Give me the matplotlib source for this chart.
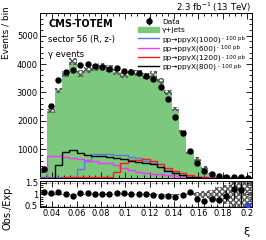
import numpy as np
import matplotlib
matplotlib.use("Agg")
import matplotlib.pyplot as plt
from matplotlib.ticker import MultipleLocator, FixedLocator
import matplotlib.patches as mpatches
from matplotlib.lines import Line2D

# ---- data ----
bin_edges = [0.03 + 0.006 * i for i in range(30)]
data = [304, 2530, 3430, 3730, 3785, 3960, 4015, 3945, 3910, 3840, 3870, 3750, 3715,
        3695, 3570, 3485, 3200, 2760, 2125, 1560, 940, 515, 244, 138, 46, 15, 8, 4, 1]
mc = [271, 2343, 3063, 3657, 4080, 3667, 3788, 3868, 3910, 3840, 3721, 3606, 3715,
      3695, 3570, 3630, 3404, 3000, 2415, 1625, 870, 652, 344, 175, 61, 16, 6.4, 3.4, 4]
mc_rel_unc = [0.03] * 20 + [0.05, 0.1, 0.15, 0.2, 0.3, 0.4, 0.6, 0.6, 0.6]
sig_1000 = [15, 15, 15, 15, 20, 300, 590, 830, 830, 820, 800, 780, 740, 700, 600, 505,
            385, 270, 175, 60, 30, 15, 5, 0, 0, 0, 0, 0, 0]
sig_600 = [0, 750, 750, 740, 700, 640, 620, 600, 520, 500, 450, 350, 270, 210, 170, 120,
           110, 80, 60, 40, 30, 20, 10, 5, 0, 0, 0, 0, 0]
sig_1200 = [0, 0, 0, 20, 20, 20, 20, 20, 20, 20, 210, 525, 620, 630, 650, 580, 470, 330,
            233, 150, 90, 30, 10, 0, 0, 0, 0, 0, 0]
sig_800 = [0, 0, 445, 905, 975, 870, 800, 760, 745, 720, 690, 650, 600, 560, 530, 470,
           365, 245, 150, 90, 30, 10, 0, 0, 0, 0, 0, 0, 0]
masses = ['1000', '600', '1200', '800']
x_ticks = [0.04, 0.06, 0.08, 0.1, 0.12, 0.14, 0.16, 0.18, 0.2]
x_tick_labels = ['0.04', '0.06', '0.08', '0.1', '0.12', '0.14', '0.16', '0.18', '0.2']

edges = np.array(bin_edges)
centers = 0.5 * (edges[:-1] + edges[1:])
data = np.array(data, float)
mc = np.array(mc, float)
unc = mc * np.array(mc_rel_unc)

W, H = 266, 240
plt.rcParams['font.family'] = ['DejaVu Sans']
fig = plt.figure(figsize=(W / 100, H / 100), dpi=100)
fs = 6

ax = fig.add_axes([40 / W, 1 - 177.6 / H, 212 / W, (177.6 - 13) / H])
rx = fig.add_axes([40 / W, 1 - 207 / H, 212 / W, (207 - 181) / H], sharex=ax)

green = '#7cc87c'
ax.stairs(mc, edges, fill=True, color=green, lw=0, zorder=1)
ax.stairs(mc + unc, edges, baseline=mc - unc, fill=True, facecolor='none',
          edgecolor='#555555', hatch='xxxxxx', lw=0, zorder=2)

sig_cols = ['#5a78e6', '#ff33ff', '#ff1a1a', 'black']
for col, vals in zip(sig_cols, [sig_1000, sig_600, sig_1200, sig_800]):
    ax.stairs(vals, edges, color=col, lw=1.0, zorder=3)

err = np.sqrt(data)
hd = ax.errorbar(centers, data, yerr=err, fmt='o', color='black', ms=3.6,
                 elinewidth=0.8, capsize=0, zorder=5)

ax.set_xlim(0.03, 0.204)
ax.set_ylim(0, 5800)
ax.set_yticks([1000, 2000, 3000, 4000, 5000])
ax.yaxis.set_minor_locator(MultipleLocator(200))
ax.xaxis.set_major_locator(MultipleLocator(0.02))
ax.xaxis.set_minor_locator(MultipleLocator(0.005))
for a in (ax, rx):
    a.tick_params(which='both', direction='in', top=True, right=True, labelsize=fs,
                  width=0.6, pad=1.5)
    a.tick_params(which='major', length=4)
    a.tick_params(which='minor', length=2)
    for s in a.spines.values():
        s.set_linewidth(0.7)
ax.tick_params(labelbottom=False)
ax.set_ylabel('Events / bin', fontsize=6.4, labelpad=2)
ax.yaxis.set_label_coords(-0.14, 0.88)

# texts
ax.text(0.04, 0.933, 'CMS-TOTEM', transform=ax.transAxes, fontsize=7,
        fontweight='bold', va='center', ha='left')
ax.text(0.04, 0.842, 'sector 56 (R, z-)', transform=ax.transAxes, fontsize=6,
        va='center', ha='left')
ax.text(0.04, 0.745, 'γ events', transform=ax.transAxes, fontsize=6,
        va='center', ha='left')
fig.text(251 / W, 1 - 7 / H, '2.3 fb$^{-1}$ (13 TeV)', fontsize=6.2, ha='right', va='center')

# legend
leg_handles = [hd, mpatches.Patch(color=green)] + [Line2D([], [], color=c, lw=1) for c in sig_cols]
leg_labels = ['Data', 'γ+jets'] + [f'pp→ppγX({m})' for m in masses]
leg = ax.legend(leg_handles, leg_labels, loc='upper left', bbox_to_anchor=(0.45, 0.985),
                fontsize=5.3, frameon=False, handlelength=2.8, handletextpad=0.45,
                labelspacing=0.35, borderaxespad=0)
fig.canvas.draw()
for t in leg.get_texts()[2:]:
    bb = t.get_window_extent()
    xf, yf = fig.transFigure.inverted().transform((bb.x1, bb.y0))
    fig.text(xf + 0.005, yf + 0.006, '- 100 pb', fontsize=4, ha='left', va='bottom')

# ratio panel
ratio = np.where(mc > 0, data / mc, 0)
rerr = np.sqrt(data) / mc
runc = np.array(mc_rel_unc)
rx.stairs(1 + runc, edges, baseline=1 - runc, fill=True, facecolor='none',
          edgecolor='#555555', hatch='xxxxxx', lw=0, zorder=2)
for yv in (0.5, 1.0, 1.5):
    rx.axhline(yv, color='#888888', ls=(0, (1, 1.5)), lw=0.7, zorder=1)
ylo, yhi = 0.45, 1.58
inr = ratio >= ylo
rx.errorbar(centers[inr], ratio[inr], yerr=rerr[inr], fmt='o', color='black', ms=3.6,
            elinewidth=0.8, capsize=0, zorder=5)
out = ~inr
rx.plot(centers[out], np.full(out.sum(), ylo + 0.06), marker='v', color='#3344dd',
        ms=4, ls='none', zorder=6)
rx.set_ylim(ylo, yhi)
rx.yaxis.set_major_locator(FixedLocator([0.5, 1.0, 1.5]))
rx.yaxis.set_minor_locator(MultipleLocator(0.1))
rx.set_yticklabels(['0.5', '1', '1.5'])
rx.set_ylabel('Obs./Exp.', fontsize=7, labelpad=2)
rx.yaxis.set_label_coords(-0.13, 0.0)
rx.set_xticks(x_ticks)
rx.set_xticklabels(x_tick_labels)
fig.text(246 / W, 1 - 232 / H, 'ξ', fontsize=8, ha='center', va='center')

fig.savefig('out.png', dpi=100)
